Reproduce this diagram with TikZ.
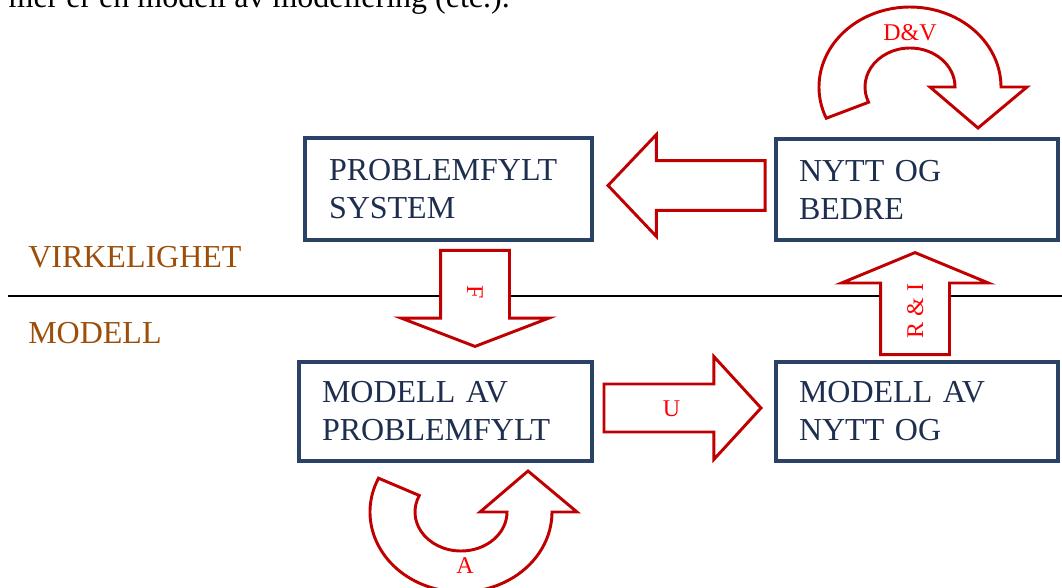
\documentclass[tikz,border=0pt]{standalone}
\usepackage{fontspec}
\setmainfont{Liberation Serif}
\usepackage{tikz}
\usetikzlibrary{shapes.arrows}
\usetikzlibrary{calc}
\definecolor{boxblue}{RGB}{42,66,101}
\definecolor{boxtext}{RGB}{30,46,78}
\definecolor{arrred}{RGB}{192,0,0}
\definecolor{lblred}{RGB}{255,0,0}
\definecolor{brun}{RGB}{156,78,10}

\begin{document}
\begin{tikzpicture}[x=0.75pt,y=-0.75pt,
  boks/.style={draw=boxblue,line width=3.6pt,text=boxtext,font=\fontsize{24}{28.5}\selectfont,align=left,inner ysep=0pt},
  blokkpil/.style={single arrow,draw=arrred,line width=2.2pt,fill=white,text=lblred,font=\fontsize{18}{20}\selectfont,text height=12pt,text depth=0pt,inner xsep=2pt},
  rundpil/.style={draw=arrred,line width=2.2pt,fill=white},
  pillabel/.style={text=lblred,font=\fontsize{18}{20}\selectfont},
  nivaa/.style={anchor=base west,text=brun,font=\fontsize{24}{28.5}\selectfont,inner sep=0pt}]
\useasboundingbox (0,0) rectangle (1062,588);
\clip (0,0) rectangle (1062,588);
\node[anchor=base east,inner sep=0pt,font=\fontsize{24}{28.5}\selectfont] (topp) at (510,8) {mer er en modell av modellering (etc.).};
\coordinate (skille1) at (8,296);
\coordinate (skille2) at (1062,296);
\draw[line width=1.3pt] (skille1) -- (skille2);
\node[nivaa] (virk) at (28,267) {VIRKELIGHET};
\node[nivaa] (modell) at (28,343) {MODELL};
% boksene
\node[boks,minimum width=215.25pt,minimum height=76.5pt,text width=179.25pt,inner xsep=18pt] (sys) at (448.5,189) {PROBLEMFYLT\\SYSTEM};
\node[boks,minimum width=211.5pt,minimum height=75.75pt,text width=177pt,inner xsep=17.25pt] (nytt) at (917,189.5) {NYTT OG\\BEDRE};
\node[boks,minimum width=219.75pt,minimum height=74.25pt,text width=185.25pt,inner xsep=17.25pt] (msys) at (445.5,411.5) {MODELL AV\\PROBLEMFYLT};
\node[boks,minimum width=211.5pt,minimum height=74.25pt,text width=177pt,inner xsep=17.25pt] (mnytt) at (917,411.5) {MODELL AV\\NYTT OG};
% blokkpilene
\node[blokkpil,rotate=180,minimum height=117.75pt,inner ysep=11.6pt,single arrow head extend=19.5pt,single arrow tip angle=93,anchor=tip] (tilbake) at ($(sys.east)+(11.6,-3.5)$) {};
\node[blokkpil,minimum height=117.75pt,inner ysep=10.9pt,single arrow head extend=20.6pt,single arrow tip angle=95,anchor=tip] (u) at ($(mnytt.west)+(-10.6,-3.5)$) {U};
\node[blokkpil,rotate=-90,minimum height=72pt,inner ysep=18.75pt,single arrow head extend=29.6pt,single arrow tip angle=138,anchor=tip] (f) at ($(msys.north)+(29.5,-11.6)$) {F};
\node[blokkpil,rotate=90,minimum height=76.5pt,inner ysep=18.75pt,single arrow head extend=29.25pt,single arrow tip angle=135,anchor=tip] (ri) at ($(nytt.south)+(-2,8.6)$) {R \& I};
% rundpilene
\draw[rundpil] (910,87) ++(157:91 and 80) arc[start angle=157,end angle=360,x radius=91,y radius=80]
  -- (1027,87) -- (978,128) -- (930,87) -- (955,87)
  arc[start angle=360,end angle=157,x radius=45,y radius=39] -- cycle;
\node[pillabel] (dv) at (910,33) {D\&V};
\draw[rundpil] (461,512) ++(205:91 and 80) arc[start angle=205,end angle=0,x radius=91,y radius=80]
  -- (577,512) -- (528,471) -- (480,512) -- (507,512)
  arc[start angle=0,end angle=205,x radius=46,y radius=39] -- cycle;
\node[pillabel] (a) at (465,566) {A};
\end{tikzpicture}
\end{document}
